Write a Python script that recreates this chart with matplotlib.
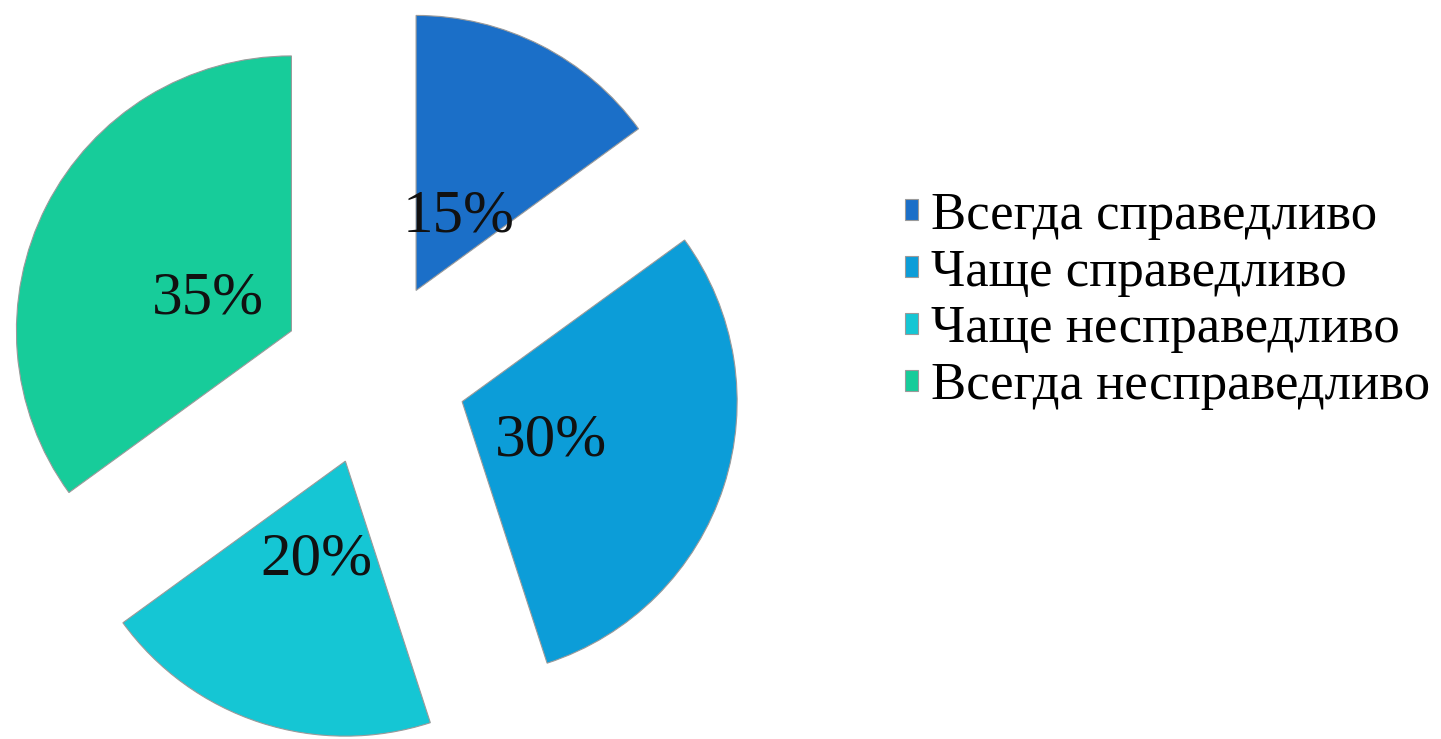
import matplotlib.pyplot as plt

# данные
labels = ['Всегда справедливо', 'Чаще справедливо', 'Чаще несправедливо', 'Всегда несправедливо']
values = [15, 30, 20, 35]
colors = ['#1b6fc8', '#0c9dd8', '#15c6d4', '#17cc9a']

W, H = 1441, 739
cx, cy, R = 374, 366, 275   # центр пирога (px от левого/нижнего края) и радиус

fig = plt.figure(figsize=(W / 100, H / 100), dpi=100)
ax = fig.add_axes([0, 0, 1, 1])

wedges, texts, autotexts = ax.pie(
    values, colors=colors, startangle=90, counterclock=False,
    explode=[0.337] * len(values), autopct='%d%%', pctdistance=0.34,
    wedgeprops=dict(edgecolor='#9a9a9a', linewidth=0.8),
    textprops=dict(fontsize=44, family='Liberation Serif', color='#111111'))

# подписи чуть ниже, как в оригинале
for t in autotexts:
    x, y = t.get_position()
    t.set_position((x, y - 10 / R))

ax.set_xlim(-cx / R, (W - cx) / R)
ax.set_ylim(-cy / R, (H - cy) / R)
ax.set_aspect('equal', adjustable='box')
ax.axis('off')

leg = ax.legend(wedges, labels, loc='center left',
                bbox_to_anchor=(905 / W, 438 / H), bbox_transform=fig.transFigure,
                frameon=False, prop=dict(family='Liberation Serif', size=38),
                handlelength=0.24, handleheight=0.24, handletextpad=0.25,
                labelspacing=0.17, borderpad=0, borderaxespad=0)

fig.savefig('out.png', dpi=100)
